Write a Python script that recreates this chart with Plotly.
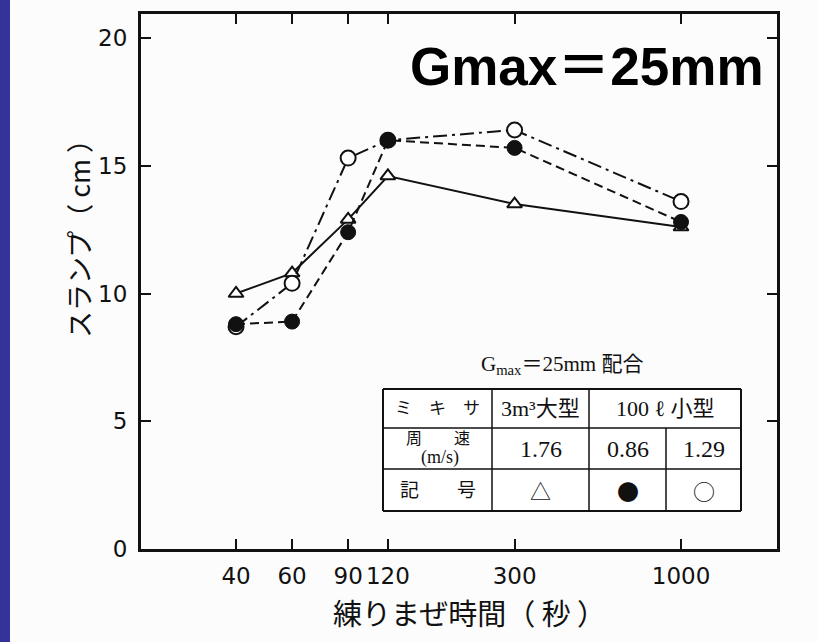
import plotly.graph_objects as go

# Mixing time (seconds) on a log axis
mix_time = [40, 60, 90, 120, 300, 1000]

# Slump (cm) for each mixer / peripheral speed
slump_large_176 = [10.0, 10.8, 12.9, 14.6, 13.5, 12.6]   # 3m3 large mixer, 1.76 m/s  (△)
slump_small_086 = [8.8, 8.9, 12.4, 16.0, 15.7, 12.8]     # 100 L small mixer, 0.86 m/s (●)
slump_small_129 = [8.7, 10.4, 15.3, 16.0, 16.4, 13.6]    # 100 L small mixer, 1.29 m/s (○)

x_tick_vals = [40, 60, 90, 120, 300, 1000]
x_tick_text = ["40", "60", "90", "120", "300", "1000"]
y_tick_vals = [0, 5, 10, 15, 20]

# Figure / plot-area geometry (pixels)
FIG_W, FIG_H = 818, 642
M_L, M_R, M_T, M_B = 141, 41, 14, 93
PLOT_W = FIG_W - M_L - M_R
PLOT_H = FIG_H - M_T - M_B


def fx(px):
    """pixel x -> paper x"""
    return (px - M_L) / PLOT_W


def fy(py):
    """pixel y -> paper y"""
    return (FIG_H - M_B - py) / PLOT_H


BLACK = "#111111"
SERIF = "Liberation Serif, Noto Sans CJK JP, serif"
SANS = "Liberation Sans, Arial, Noto Sans CJK JP, sans-serif"
TICK_FONT = "DejaVu Sans, sans-serif"
CJK = "Noto Sans CJK JP, sans-serif"

fig = go.Figure()

fig.add_trace(go.Scatter(
    x=mix_time, y=slump_large_176, mode="lines+markers",
    line=dict(color=BLACK, width=2),
    marker=dict(symbol="triangle-up", size=13, color="white",
                line=dict(color=BLACK, width=2)),
    showlegend=False,
))
fig.add_trace(go.Scatter(
    x=mix_time, y=slump_small_129, mode="lines+markers",
    line=dict(color=BLACK, width=2, dash="14px,5px,3px,5px"),
    marker=dict(symbol="circle", size=15, color="white",
                line=dict(color=BLACK, width=2)),
    showlegend=False,
))
fig.add_trace(go.Scatter(
    x=mix_time, y=slump_small_086, mode="lines+markers",
    line=dict(color=BLACK, width=2, dash="9px,5px"),
    marker=dict(symbol="circle", size=15, color=BLACK,
                line=dict(color=BLACK, width=1)),
    showlegend=False,
))

shapes = []
annotations = []

# blue band at the left edge of the page
shapes.append(dict(type="rect", xref="paper", yref="paper",
                   x0=fx(0), x1=fx(10), y0=fy(FIG_H), y1=fy(0),
                   fillcolor="#33339a", line=dict(width=0), layer="below"))

# ---- mixer table ----
T_L, T_C1, T_C2, T_C3, T_R = 383, 492, 589, 666, 741
T_T, T_R1, T_R2, T_B = 389, 428, 469, 511


def hline(x0, x1, y, w=1.5):
    shapes.append(dict(type="line", xref="paper", yref="paper",
                       x0=fx(x0), x1=fx(x1), y0=fy(y), y1=fy(y),
                       line=dict(color=BLACK, width=w)))


def vline(x, y0, y1, w=1.5):
    shapes.append(dict(type="line", xref="paper", yref="paper",
                       x0=fx(x), x1=fx(x), y0=fy(y0), y1=fy(y1),
                       line=dict(color=BLACK, width=w)))


# white cell background
shapes.append(dict(type="rect", xref="paper", yref="paper",
                   x0=fx(T_L), x1=fx(T_R), y0=fy(T_B), y1=fy(T_T),
                   fillcolor="white", line=dict(width=0)))
hline(T_L, T_R, T_T, 2.2)
hline(T_L, T_R, T_R1)
hline(T_L, T_R, T_R2)
hline(T_L, T_R, T_B, 2)
vline(T_L, T_T, T_B, 2)
vline(T_R, T_T, T_B, 2)
vline(T_C1, T_T, T_B)
vline(T_C2, T_T, T_B)
vline(T_C3, T_R1, T_B)


def label(text, px, py, size, family=SERIF, color=BLACK, **kw):
    annotations.append(dict(text=text, xref="paper", yref="paper",
                            x=fx(px), y=fy(py), xanchor=kw.pop("xanchor", "center"),
                            yanchor=kw.pop("yanchor", "middle"), showarrow=False,
                            font=dict(family=family, size=size, color=color), **kw))


c0 = (T_L + T_C1) / 2
c1 = (T_C1 + T_C2) / 2
c2 = (T_C2 + T_C3) / 2
c3 = (T_C3 + T_R) / 2
c23 = (T_C2 + T_R) / 2
r0 = (T_T + T_R1) / 2
r1 = (T_R1 + T_R2) / 2
r2 = (T_R2 + T_B) / 2

label("G<sub>max</sub>＝25mm 配合", 562, 365, 21)
label("ミ　キ　サ", c0, r0, 17)
label("3m³大型", c1, r0, 22)
label("100 ℓ 小型", c23, r0, 22)
label("周　　速", c0, r1 - 10, 16)
label("(m/s)", c0 + 2, r1 + 9, 18)
label("1.76", c1, r1, 24)
label("0.86", c2, r1, 24)
label("1.29", c3, r1, 24)
label("記　　号", c0, r2, 19)
label("△", c1, r2, 21, family=CJK)
label("●", c2, r2, 22, family=CJK)
label("○", c3, r2, 22, family=CJK)

# headline
label("<b>Gmax＝25mm</b>", 766, 66, 53, family=SANS, color="#000000",
      xanchor="right")

# axis titles
label("スランプ（ cm ）", 78, 232, 27, family=CJK, textangle=-90)
label("練りまぜ時間（ 秒 ）", 469, 612, 29, family=CJK)

axis_common = dict(
    showline=True, linecolor=BLACK, linewidth=3, mirror="ticks",
    ticks="inside", ticklen=10, tickwidth=2, tickcolor=BLACK,
    showgrid=False, zeroline=False, tickangle=0,
    tickfont=dict(family=TICK_FONT, size=23, color=BLACK),
)

fig.update_layout(
    width=FIG_W, height=FIG_H,
    margin=dict(l=M_L, r=M_R, t=M_T, b=M_B, pad=0),
    paper_bgcolor="#fcfcfc", plot_bgcolor="#fcfcfc",
    xaxis=dict(type="log", range=[1.3035, 3.3015],
               tickvals=x_tick_vals, ticktext=x_tick_text,
               ticklabelstandoff=4, **axis_common),
    yaxis=dict(range=[0, 20.94], tickvals=y_tick_vals,
               ticklabelstandoff=6, **axis_common),
    shapes=shapes, annotations=annotations,
)

fig.write_html("out.html")
